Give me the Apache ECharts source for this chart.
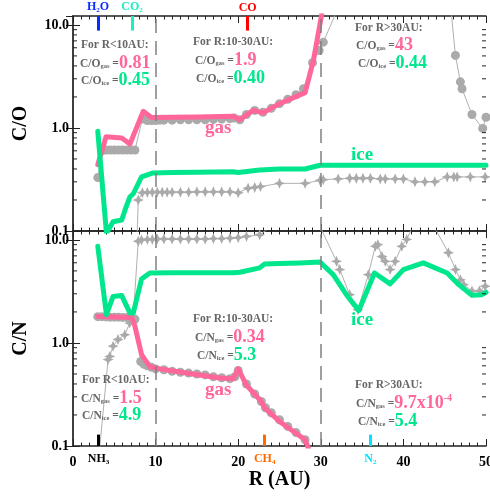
<!DOCTYPE html>
<html><head><meta charset="utf-8">
<script src="https://cdn.jsdelivr.net/npm/echarts@6/dist/echarts.min.js"></script>
<style>html,body{margin:0;padding:0;background:#fff}#c{width:490px;height:497px}</style>
</head><body><div id="c"></div>
<script>
// ---------------- data ----------------
// Top panel: C/O
const coGasR = [3.0, 4.0, 5.9, 6.9, 8.5, 9.5, 12.0, 15.0, 19.4, 20.2, 21.8, 23.0, 25.0, 28.1, 29.1, 30.1, 31.0, 50.0];
const coGas  = [0.44, 0.82, 0.80, 0.70, 1.45, 1.26, 1.27, 1.28, 1.30, 1.20, 1.48, 1.40, 1.72, 2.20, 4.50, 12.5, 43, 43];
const coIceR = [3.0, 4.05, 4.85, 5.9, 6.3, 6.9, 7.3, 8.3, 9.7, 12.0, 15.0, 19.4, 20.0, 22.6, 25.0, 28.1, 29.9, 50.0];
const coIce  = [0.93, 0.095, 0.123, 0.128, 0.16, 0.215, 0.23, 0.336, 0.366, 0.37, 0.372, 0.375, 0.37, 0.39, 0.40, 0.40, 0.435, 0.435];
const coGasModR = [3.0, 3.5, 4.0, 4.5, 5.0, 5.5, 6.0, 6.5, 7.0, 7.5, 8.4, 9.0, 9.5, 10.0, 10.5, 11.0, 12.0, 13.0, 14.0, 15.0, 16.0, 17.0, 18.0, 19.0, 19.5, 20.2, 21.0, 22.0, 23.0, 24.0, 25.0, 26.0, 27.0, 27.9, 29.0, 29.8, 30.3, 32.0, 36.0, 40.0, 44.0, 45.8, 46.3, 46.9, 47.1, 48.3, 49.6, 50.0];
const coGasMod  = [0.33, 0.60, 0.61, 0.61, 0.61, 0.61, 0.61, 0.61, 0.61, 0.61, 1.22, 1.18, 1.18, 1.18, 1.19, 1.19, 1.19, 1.20, 1.20, 1.20, 1.20, 1.21, 1.22, 1.23, 1.25, 1.20, 1.35, 1.48, 1.42, 1.55, 1.72, 1.90, 2.10, 2.40, 4.30, 5.65, 6.80, 14, 60, 60, 30, 13, 5.06, 2.80, 2.40, 1.35, 0.99, 1.27];
const coIceModR = [3.0, 7.5, 7.9, 8.4, 9.0, 9.6, 10.2, 10.8, 11.4, 12.0, 13.0, 14.0, 15.0, 16.0, 17.0, 18.0, 19.0, 20.0, 21.2, 22.0, 22.7, 25.0, 28.1, 29.9, 30.3, 32.1, 33.5, 34.3, 35.1, 36.0, 37.2, 37.8, 39.0, 40.0, 41.4, 42.6, 43.8, 45.3, 46.1, 46.5, 48.1, 49.9];
const coIceMod  = [0.02, 0.02, 0.20, 0.235, 0.237, 0.238, 0.238, 0.238, 0.238, 0.238, 0.238, 0.238, 0.24, 0.24, 0.24, 0.24, 0.24, 0.235, 0.26, 0.265, 0.27, 0.29, 0.29, 0.31, 0.315, 0.32, 0.325, 0.325, 0.325, 0.325, 0.32, 0.32, 0.32, 0.32, 0.30, 0.30, 0.30, 0.335, 0.335, 0.335, 0.335, 0.335];

// Bottom panel: C/N
const cnGasR = [3.0, 5.0, 7.1, 7.5, 8.3, 9.3, 10.5, 14.5, 17.8, 19.4, 20.0, 21.0, 22.8, 23.2, 25.0, 28.1, 28.6, 30.0, 50.0];
const cnGas  = [1.81, 1.79, 1.77, 1.45, 0.77, 0.59, 0.56, 0.50, 0.457, 0.45, 0.56, 0.39, 0.27, 0.234, 0.173, 0.115, 0.09, 0.001, 0.00097];
const cnIceR = [3.0, 4.05, 4.85, 5.9, 6.9, 7.3, 8.3, 9.3, 12.0, 15.0, 19.4, 20.2, 22.6, 23.2, 25.0, 27.5, 29.9, 31.5, 33.1, 34.6, 36.5, 38.4, 40.0, 42.4, 45.3, 46.7, 48.3, 49.5, 50.0];
const cnIce  = [8.67, 1.88, 2.83, 2.88, 1.95, 1.95, 4.18, 4.78, 4.80, 4.80, 4.80, 4.85, 5.35, 5.85, 5.90, 5.98, 6.10, 4.60, 2.94, 2.06, 4.78, 3.74, 5.15, 5.98, 4.78, 3.68, 2.90, 2.94, 3.10];
const cnGasModR = [3.0, 3.5, 4.0, 4.5, 5.0, 5.5, 6.0, 6.5, 7.0, 7.5, 8.2, 8.6, 9.0, 9.5, 10.0, 11.0, 12.0, 13.0, 14.0, 15.0, 16.0, 17.0, 18.0, 19.0, 19.6, 20.0, 21.0, 22.0, 22.8, 23.3, 24.0, 25.0, 26.0, 27.0, 28.1, 28.6, 30.0, 50.0];
const cnGasMod  = [1.80, 1.80, 1.79, 1.78, 1.78, 1.78, 1.77, 1.77, 1.76, 1.70, 0.66, 0.62, 0.60, 0.58, 0.56, 0.55, 0.53, 0.52, 0.51, 0.50, 0.49, 0.47, 0.46, 0.45, 0.47, 0.54, 0.40, 0.32, 0.27, 0.235, 0.21, 0.18, 0.155, 0.135, 0.115, 0.09, 0.001, 0.00097];
const cnIceModR = [3.2, 4.25, 4.45, 4.85, 5.45, 6.27, 6.87, 7.27, 7.9, 8.3, 9.0, 9.6, 10.2, 11.0, 12.0, 13.0, 14.0, 15.0, 16.0, 17.0, 18.0, 19.0, 20.0, 21.0, 22.6, 24.0, 27.0, 30.0, 31.9, 32.3, 33.5, 34.5, 35.75, 36.6, 36.9, 37.4, 37.8, 38.4, 39.0, 39.8, 40.4, 41.2, 43.6, 45.45, 46.3, 46.9, 47.3, 48.3, 49.2, 49.9];
const cnIceMod  = [0.09, 0.69, 0.74, 0.93, 1.08, 1.20, 1.56, 1.68, 9.7, 10.0, 10.1, 10.1, 10.2, 10.2, 10.2, 10.2, 10.2, 10.2, 10.2, 10.3, 10.3, 10.4, 10.5, 10.8, 11.2, 13.5, 14, 13, 6.2, 5.15, 2.94, 2.10, 4.60, 8.67, 9.0, 6.9, 6.2, 5.15, 6.2, 8.67, 10.1, 14, 14, 7.5, 5.15, 4.10, 3.68, 3.20, 3.20, 3.55];

// snow lines
const topSnowR = [3.03, 7.14, 21.15];
const topSnowNames = ['{m|H}{ms|2}{m|O}', '{m|CO}{ms|2}', '{m|CO}'];
const topSnowColors = ['#0a2cff', '#19f0c0', '#ff0000'];
const botSnowR = [3.1, 23.2, 36.0];
const botSnowNames = ['{m|NH}{ms|3}', '{m|CH}{ms|4}', '{m|N}{ms|2}'];
const botSnowColors = ['#000000', '#ff6a00', '#00e4ff'];

// axis
const xTicks = [0, 10, 20, 30, 40, 50];
const yMin = 0.1, yMax = 12.2;
const yMinorTicks = [0.2, 0.3, 0.4, 0.5, 0.6, 0.7, 0.8, 0.9, 2, 3, 4, 5, 6, 7, 8, 9];
const dividers = [10, 30];

// --------------- styling ---------------
const SERIF = "'Liberation Serif','DejaVu Serif',serif";
const PINK = '#ff6699', GREEN = '#00e68c', GREY = '#aaaaaa', TXT = '#666666';
const STAR = 'path://M0,-10 L3,-3 L10,0 L3,3 L0,10 L-3,3 L-10,0 L-3,-3 Z';
const pairs = (xs, ys) => xs.map((x, i) => [x, ys[i]]);

function xAx(grid, pos, labels) {
  return {
    type: 'value', gridIndex: grid, position: pos, min: xTicks[0], max: xTicks[xTicks.length - 1],
    interval: xTicks[1] - xTicks[0],
    axisLine: { show: true, lineStyle: { color: '#222', width: 1.5 } },
    axisTick: { show: true, inside: true, length: 7, lineStyle: { color: '#222', width: 1 } },
    minorTick: { show: true, splitNumber: 10, length: 3.5, lineStyle: { color: '#222', width: 1 } },
    splitLine: { show: false }, minorSplitLine: { show: false },
    axisLabel: { show: labels, margin: 9, color: '#000', fontFamily: SERIF, fontWeight: 'bold', fontSize: 14 },
    name: labels ? 'R (AU)' : '', nameLocation: 'middle', nameGap: 21,
    nameTextStyle: { color: '#000', fontFamily: SERIF, fontWeight: 'bold', fontSize: 20 }
  };
}
function yAx(grid, pos, name) {
  const left = pos === 'left';
  return {
    type: 'log', logBase: 10, gridIndex: grid, position: pos, min: yMin, max: yMax,
    axisLine: { show: true, lineStyle: { color: left ? '#777' : '#222', width: 1.5 } },
    axisTick: { show: true, inside: true, length: 7, lineStyle: { color: '#222', width: 1 } },
    splitLine: { show: false },
    axisLabel: { show: left, margin: 4, showMaxLabel: false, color: '#000', fontFamily: SERIF, fontWeight: 'bold', fontSize: 14,
      formatter: v => Number(v).toFixed(1) },
    name: left ? name : '', nameLocation: 'middle', nameRotate: 90, nameGap: 42,
    nameTextStyle: { color: '#000', fontFamily: SERIF, fontWeight: 'bold', fontSize: 20 }
  };
}
function thick(xi, yi, xs, ys, color) {
  return { type: 'line', xAxisIndex: xi, yAxisIndex: yi, data: pairs(xs, ys), symbol: 'none', z: 4,
    lineStyle: { color, width: 5, cap: 'round', join: 'round' }, itemStyle: { color }, silent: true, animation: false };
}
function model(xi, yi, xs, ys, symbol, extra) {
  return Object.assign({ type: 'line', xAxisIndex: xi, yAxisIndex: yi, data: pairs(xs, ys), symbol, symbolSize: symbol === 'circle' ? 9 : 11,
    showAllSymbol: true, z: 2, lineStyle: { color: '#b0b0b0', width: 1 }, itemStyle: { color: GREY }, silent: true, animation: false }, extra || {});
}
function dividerMark() {
  return { silent: true, symbol: ['none', 'none'], label: { show: false }, animation: false,
    lineStyle: { color: '#808080', width: 1.5, type: [14, 8] }, data: dividers.map(d => ({ xAxis: d })) };
}
function snowMark(rs, names, colors, y0, y1, top) {
  return { silent: true, symbol: ['none', 'none'], animation: false,
    data: rs.map((r, i) => [
      { coord: [r, y0], lineStyle: { color: colors[i], width: 3, type: 'solid' },
        label: { show: true, position: 'end', distance: top ? 2 : 6, formatter: names[i],
          rich: { m: { color: colors[i], fontFamily: SERIF, fontWeight: 'bold', fontSize: 12 },
                  ms: { color: colors[i], fontFamily: SERIF, fontWeight: 'bold', fontSize: 7, padding: [7, 0, 0, 0] } } } },
      { coord: [r, y1] }]) };
}
function minorTicks(xi, yi) {
  return { type: 'custom', xAxisIndex: xi, yAxisIndex: yi, silent: true, animation: false, z: 5,
    data: yMinorTicks.map(v => [xTicks[0], v]), encode: { x: 0, y: 1 },
    renderItem: (params, api) => {
      const v = api.value(1);
      const a = api.coord([xTicks[0], v]), b = api.coord([xTicks[xTicks.length - 1], v]);
      const st = { stroke: '#222', lineWidth: 1 };
      return { type: 'group', children: [
        { type: 'line', shape: { x1: a[0], y1: a[1], x2: a[0] + 4, y2: a[1] }, style: st },
        { type: 'line', shape: { x1: b[0] - 4, y1: b[1], x2: b[0], y2: b[1] }, style: st } ] };
    } };
}

// ratio annotation text (zrender rich tokens use fill)
function rich(col) {
  const base = { fontFamily: SERIF, fontWeight: 'bold' };
  return {
    a: Object.assign({ fill: TXT, fontSize: 11.5, padding: [2, 0, 0, 0] }, base),
    s: Object.assign({ fill: TXT, fontSize: 6.5, padding: [7, 0, 0, 0] }, base),
    e: Object.assign({ fill: TXT, fontSize: 11.5, padding: [2, 0, 0, 0] }, base),
    v: Object.assign({ fill: col, fontSize: 18 }, base),
    p: Object.assign({ fill: col, fontSize: 10, padding: [0, 0, 10, 0] }, base)
  };
}
function ratio(x, y, head, sub, val, col, sup) {
  return { type: 'text', x, y, z: 100, silent: true,
    style: { text: `{a|${head}}{s|${sub}}{e| =}{v|${val}}` + (sup ? `{p|${sup}}` : ''), rich: rich(col), fill: TXT,
      fontFamily: SERIF, fontWeight: 'bold',
      align: 'left', verticalAlign: 'middle', textAlign: 'left', textVerticalAlign: 'middle' } };
}
function plain(x, y, text, col, size) {
  return { type: 'text', x, y, z: 100, silent: true,
    style: { text, fill: col, fontFamily: SERIF, fontWeight: 'bold', fontSize: size,
      align: 'left', verticalAlign: 'middle', textAlign: 'left', textVerticalAlign: 'middle' } };
}

const graphics = [
  plain(81, 45, 'For R<10AU:', TXT, 11.5),
  ratio(80, 63, 'C/O', 'gas', '0.81', PINK),
  ratio(81, 80, 'C/O', 'ice', '0.45', GREEN),
  plain(193, 42, 'For R:10-30AU:', TXT, 11.5),
  ratio(195, 60, 'C/O', 'gas', '1.9', PINK),
  ratio(196, 78, 'C/O', 'ice', '0.40', GREEN),
  plain(355, 28, 'For R>30AU:', TXT, 11.5),
  ratio(356, 45, 'C/O', 'gas', '43', PINK),
  ratio(358, 63, 'C/O', 'ice', '0.44', GREEN),
  plain(205, 128, 'gas', PINK, 19),
  plain(351, 155, 'ice', GREEN, 19),

  plain(193, 319, 'For R:10-30AU:', TXT, 11.5),
  ratio(195, 337, 'C/N', 'gas', '0.34', PINK),
  ratio(197, 355, 'C/N', 'ice', '5.3', GREEN),
  plain(82, 380, 'For R<10AU:', TXT, 11.5),
  ratio(81, 398, 'C/N', 'gas', '1.5', PINK),
  ratio(82, 415, 'C/N', 'ice', '4.9', GREEN),
  plain(205, 390, 'gas', PINK, 19),
  plain(351, 320, 'ice', GREEN, 19),
  plain(355, 385, 'For R>30AU:', TXT, 11.5),
  ratio(356, 403, 'C/N', 'gas', '9.7x10', PINK, '-4'),
  ratio(358, 421, 'C/N', 'ice', '5.4', GREEN)
];

const option = {
  backgroundColor: '#fff',
  animation: false,
  grid: [
    { left: 73, right: 4, top: 16, height: 215, outerBoundsMode: 'none' },
    { left: 73, right: 4, top: 231, height: 215, outerBoundsMode: 'none' }
  ],
  xAxis: [xAx(0, 'bottom', false), xAx(0, 'top', false), xAx(1, 'bottom', true), xAx(1, 'top', false)],
  yAxis: [yAx(0, 'left', 'C/O'), yAx(0, 'right', ''), yAx(1, 'left', 'C/N'), yAx(1, 'right', '')],
  series: [
    model(0, 0, coGasModR, coGasMod, 'circle', { markLine: dividerMark() }),
    model(0, 0, coIceModR, coIceMod, STAR, { markLine: snowMark(topSnowR, topSnowNames, topSnowColors, 8.8, yMax, true) }),
    thick(0, 0, coGasR, coGas, PINK),
    thick(0, 0, coIceR, coIce, GREEN),
    minorTicks(0, 0),
    model(2, 2, cnGasModR, cnGasMod, 'circle', { markLine: dividerMark() }),
    model(2, 2, cnIceModR, cnIceMod, STAR, { markLine: snowMark(botSnowR, botSnowNames, botSnowColors, 0.129, yMin, false) }),
    thick(2, 2, cnGasR, cnGas, PINK),
    thick(2, 2, cnIceR, cnIce, GREEN),
    minorTicks(2, 2)
  ],
  graphic: graphics
};
const chart = echarts.init(document.getElementById('c'), null, { renderer: 'canvas' });
chart.setOption(option);
</script></body></html>
